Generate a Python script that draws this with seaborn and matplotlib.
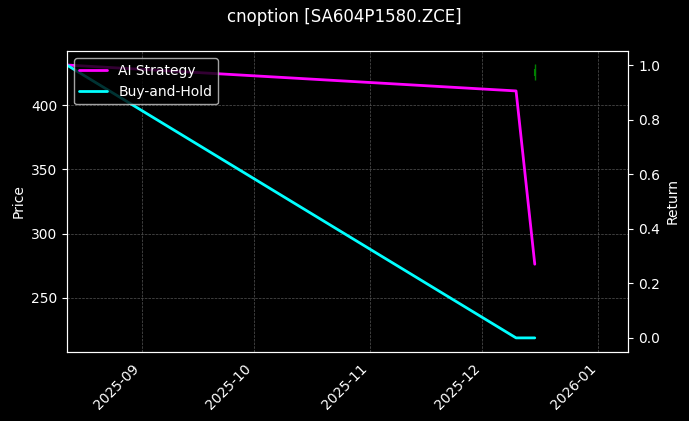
import pandas as pd
import matplotlib
matplotlib.use("Agg")
import matplotlib.pyplot as plt
import matplotlib.dates as mdates
import seaborn as sns

# candle data (one bar)
candle_dates = ["2025-12-15"]
candle_open = [423.0]
candle_close = [428.0]
candle_high = [432.0]
candle_low = [419.5]

# strategy return curves
ret_dates = ["2025-08-12", "2025-12-10", "2025-12-15"]
ai_strategy = [1.0, 0.905, 0.27]
buy_hold = [1.0, 0.0, 0.0]

plt.style.use("dark_background")
sns.set_style("dark", {"axes.facecolor": "black", "figure.facecolor": "black"})
plt.rcParams['font.family'] = ['DejaVu Sans']
plt.rcParams['text.color'] = 'white'
plt.rcParams['axes.labelcolor'] = 'white'
plt.rcParams['xtick.color'] = 'white'
plt.rcParams['ytick.color'] = 'white'

fig, ax = plt.subplots(figsize=(6.89, 4.21), dpi=100)
fig.patch.set_facecolor('black')
ax.set_facecolor('black')

cd = pd.to_datetime(candle_dates)
for d, o, c, h, l in zip(cd, candle_open, candle_close, candle_high, candle_low):
    col = 'green' if c >= o else 'red'
    ax.vlines(d, l, h, color=col, linewidth=1)
    ax.vlines(d, min(o, c), max(o, c), color=col, linewidth=1.5)

ax.set_ylim(208, 442)
ax.set_ylabel("Price")
ax.grid(True, linestyle='--', linewidth=0.5, color='#555555')
for s in ax.spines.values():
    s.set_color('white')

ax2 = ax.twinx()
df = pd.DataFrame({"date": pd.to_datetime(ret_dates), "AI Strategy": ai_strategy, "Buy-and-Hold": buy_hold})
sns.lineplot(data=df, x="date", y="AI Strategy", ax=ax2, color='magenta', linewidth=2, label="AI Strategy")
sns.lineplot(data=df, x="date", y="Buy-and-Hold", ax=ax2, color='cyan', linewidth=2, label="Buy-and-Hold")
ax2.set_ylim(-0.05, 1.05)
ax2.set_ylabel("Return")
ax2.set_xlabel("")
for s in ax2.spines.values():
    s.set_color('white')

ax.set_xlim(pd.Timestamp("2025-08-12"), pd.Timestamp("2026-01-09"))
ax.xaxis.set_major_locator(mdates.MonthLocator())
ax.xaxis.set_major_formatter(mdates.DateFormatter("%Y-%m"))
plt.setp(ax.get_xticklabels(), rotation=45, ha='right')

ax2.legend(loc='upper left', facecolor='black', edgecolor='#cccccc', framealpha=0.8)

fig.suptitle("cnoption [SA604P1580.ZCE]", color='white', fontsize=12)
fig.subplots_adjust(left=0.097, right=0.912, top=0.878, bottom=0.165)
fig.savefig("out.png", dpi=100, facecolor='black')
